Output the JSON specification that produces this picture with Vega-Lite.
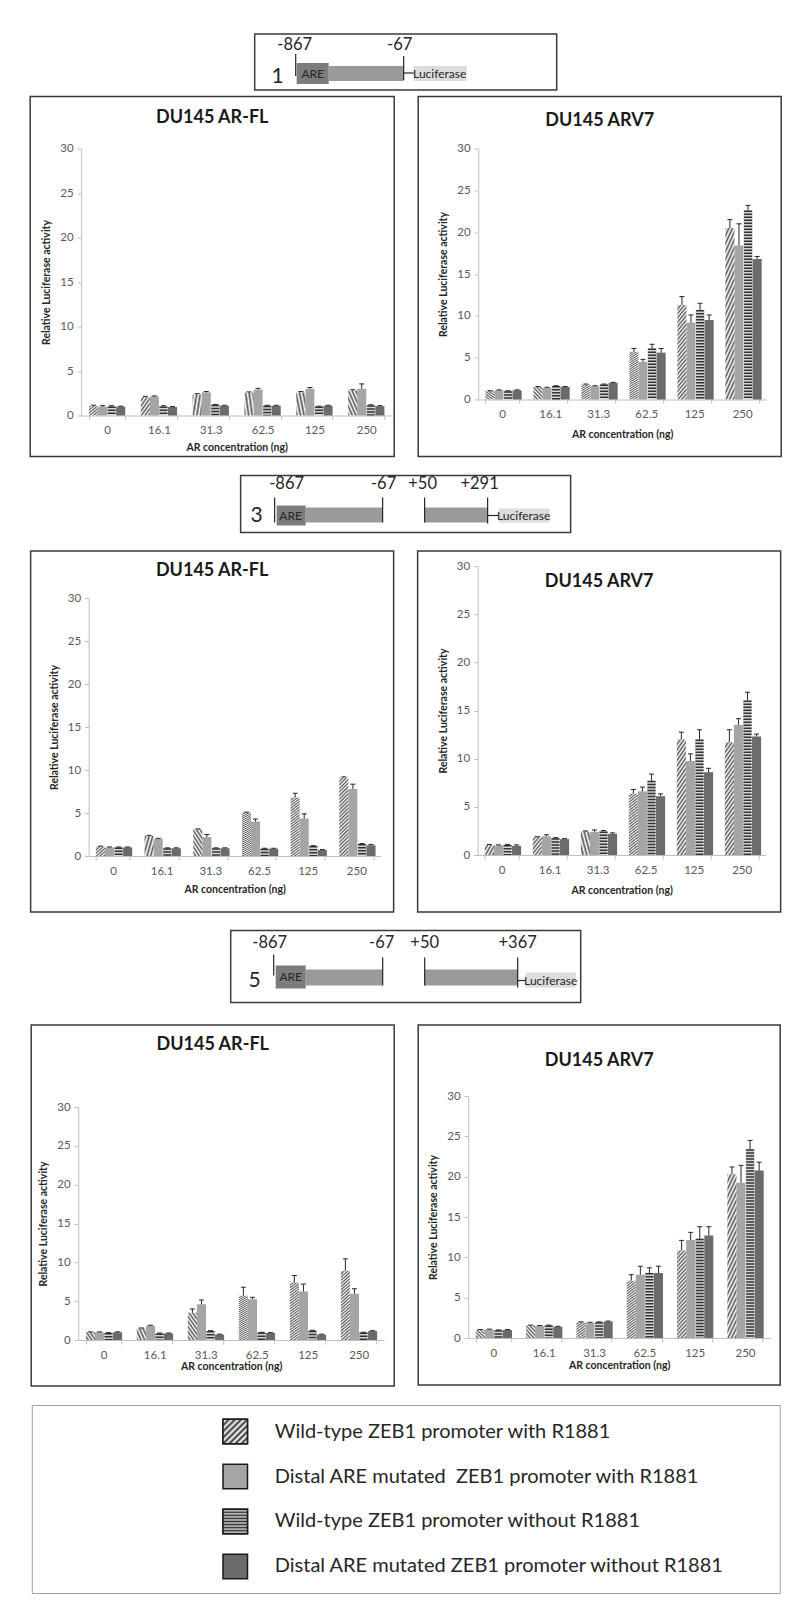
{
"$schema": "https://vega.github.io/schema/vega-lite/v6.json",
"background": "#ffffff",
"padding": {"left": 29, "top": 33, "right": 5, "bottom": 5},
"spacing": 16.5,
"center": true,
"config": {
  "font": "Lato",
  "view": {"stroke": "#3a3a3a", "strokeWidth": 1.5},
  "axis": {"grid": false, "labelColor": "#595959", "labelFontSize": 11.5, "titleColor": "#262626", "titleFontSize": 10.5, "titleFontWeight": "bold", "domainColor": "#bfbfbf", "tickColor": "#bfbfbf", "tickSize": 4},
  "axisX": {"labelAngle": 0, "tickBand": "extent", "labelPadding": 5},
  "axisY": {"labelPadding": 4, "titlePadding": 8},
  "title": {"fontSize": 18, "fontWeight": "bold", "color": "#1a1a1a", "anchor": "middle", "frame": "group"}
},
"datasets": {
  "bars": [
    {"p":1,"c":"0","s":"A","v":1.05,"hi":1.15},{"p":1,"c":"0","s":"B","v":1.0,"hi":1.1},{"p":1,"c":"0","s":"C","v":1.0,"hi":1.1},{"p":1,"c":"0","s":"D","v":1.0,"hi":1.05},
    {"p":1,"c":"16.1","s":"A","v":2.05,"hi":2.15},{"p":1,"c":"16.1","s":"B","v":2.15,"hi":2.2},{"p":1,"c":"16.1","s":"C","v":1.0,"hi":1.1},{"p":1,"c":"16.1","s":"D","v":0.95,"hi":1.0},
    {"p":1,"c":"31.3","s":"A","v":2.35,"hi":2.45},{"p":1,"c":"31.3","s":"B","v":2.6,"hi":2.7},{"p":1,"c":"31.3","s":"C","v":1.2,"hi":1.25},{"p":1,"c":"31.3","s":"D","v":1.1,"hi":1.15},
    {"p":1,"c":"62.5","s":"A","v":2.55,"hi":2.65},{"p":1,"c":"62.5","s":"B","v":2.9,"hi":3.05},{"p":1,"c":"62.5","s":"C","v":1.1,"hi":1.15},{"p":1,"c":"62.5","s":"D","v":1.1,"hi":1.15},
    {"p":1,"c":"125","s":"A","v":2.6,"hi":2.7},{"p":1,"c":"125","s":"B","v":3.0,"hi":3.15},{"p":1,"c":"125","s":"C","v":1.0,"hi":1.05},{"p":1,"c":"125","s":"D","v":1.1,"hi":1.15},
    {"p":1,"c":"250","s":"A","v":2.8,"hi":2.9},{"p":1,"c":"250","s":"B","v":3.0,"hi":3.55},{"p":1,"c":"250","s":"C","v":1.15,"hi":1.2},{"p":1,"c":"250","s":"D","v":1.05,"hi":1.1},

    {"p":2,"c":"0","s":"A","v":1.0,"hi":1.05},{"p":2,"c":"0","s":"B","v":1.1,"hi":1.15},{"p":2,"c":"0","s":"C","v":1.0,"hi":1.05},{"p":2,"c":"0","s":"D","v":1.1,"hi":1.15},
    {"p":2,"c":"16.1","s":"A","v":1.5,"hi":1.55},{"p":2,"c":"16.1","s":"B","v":1.4,"hi":1.45},{"p":2,"c":"16.1","s":"C","v":1.6,"hi":1.65},{"p":2,"c":"16.1","s":"D","v":1.5,"hi":1.55},
    {"p":2,"c":"31.3","s":"A","v":1.8,"hi":1.85},{"p":2,"c":"31.3","s":"B","v":1.6,"hi":1.65},{"p":2,"c":"31.3","s":"C","v":1.8,"hi":1.85},{"p":2,"c":"31.3","s":"D","v":2.0,"hi":2.05},
    {"p":2,"c":"62.5","s":"A","v":5.7,"hi":6.1},{"p":2,"c":"62.5","s":"B","v":4.5,"hi":4.8},{"p":2,"c":"62.5","s":"C","v":6.1,"hi":6.6},{"p":2,"c":"62.5","s":"D","v":5.6,"hi":6.1},
    {"p":2,"c":"125","s":"A","v":11.3,"hi":12.3},{"p":2,"c":"125","s":"B","v":9.2,"hi":10.1},{"p":2,"c":"125","s":"C","v":10.7,"hi":11.5},{"p":2,"c":"125","s":"D","v":9.5,"hi":10.1},
    {"p":2,"c":"250","s":"A","v":20.5,"hi":21.5},{"p":2,"c":"250","s":"B","v":18.4,"hi":21.0},{"p":2,"c":"250","s":"C","v":22.6,"hi":23.2},{"p":2,"c":"250","s":"D","v":16.8,"hi":17.1},

    {"p":3,"c":"0","s":"A","v":1.1,"hi":1.15},{"p":3,"c":"0","s":"B","v":1.0,"hi":1.05},{"p":3,"c":"0","s":"C","v":1.0,"hi":1.05},{"p":3,"c":"0","s":"D","v":1.0,"hi":1.05},
    {"p":3,"c":"16.1","s":"A","v":2.35,"hi":2.4},{"p":3,"c":"16.1","s":"B","v":2.0,"hi":2.05},{"p":3,"c":"16.1","s":"C","v":0.9,"hi":0.95},{"p":3,"c":"16.1","s":"D","v":0.9,"hi":0.95},
    {"p":3,"c":"31.3","s":"A","v":3.1,"hi":3.15},{"p":3,"c":"31.3","s":"B","v":2.2,"hi":2.5},{"p":3,"c":"31.3","s":"C","v":0.9,"hi":0.95},{"p":3,"c":"31.3","s":"D","v":0.9,"hi":0.95},
    {"p":3,"c":"62.5","s":"A","v":5.05,"hi":5.1},{"p":3,"c":"62.5","s":"B","v":4.0,"hi":4.3},{"p":3,"c":"62.5","s":"C","v":0.85,"hi":0.9},{"p":3,"c":"62.5","s":"D","v":0.85,"hi":0.9},
    {"p":3,"c":"125","s":"A","v":6.8,"hi":7.3},{"p":3,"c":"125","s":"B","v":4.35,"hi":4.9},{"p":3,"c":"125","s":"C","v":1.15,"hi":1.2},{"p":3,"c":"125","s":"D","v":0.7,"hi":0.75},
    {"p":3,"c":"250","s":"A","v":9.1,"hi":9.2},{"p":3,"c":"250","s":"B","v":7.8,"hi":8.35},{"p":3,"c":"250","s":"C","v":1.4,"hi":1.45},{"p":3,"c":"250","s":"D","v":1.25,"hi":1.35},

    {"p":4,"c":"0","s":"A","v":1.05,"hi":1.1},{"p":4,"c":"0","s":"B","v":1.0,"hi":1.05},{"p":4,"c":"0","s":"C","v":1.05,"hi":1.1},{"p":4,"c":"0","s":"D","v":0.95,"hi":1.05},
    {"p":4,"c":"16.1","s":"A","v":1.85,"hi":1.9},{"p":4,"c":"16.1","s":"B","v":1.95,"hi":2.1},{"p":4,"c":"16.1","s":"C","v":1.75,"hi":1.8},{"p":4,"c":"16.1","s":"D","v":1.65,"hi":1.7},
    {"p":4,"c":"31.3","s":"A","v":2.45,"hi":2.5},{"p":4,"c":"31.3","s":"B","v":2.4,"hi":2.6},{"p":4,"c":"31.3","s":"C","v":2.45,"hi":2.55},{"p":4,"c":"31.3","s":"D","v":2.2,"hi":2.3},
    {"p":4,"c":"62.5","s":"A","v":6.35,"hi":6.8},{"p":4,"c":"62.5","s":"B","v":6.6,"hi":7.05},{"p":4,"c":"62.5","s":"C","v":7.7,"hi":8.4},{"p":4,"c":"62.5","s":"D","v":6.1,"hi":6.35},
    {"p":4,"c":"125","s":"A","v":12.0,"hi":12.75},{"p":4,"c":"125","s":"B","v":9.75,"hi":10.5},{"p":4,"c":"125","s":"C","v":12.0,"hi":13.0},{"p":4,"c":"125","s":"D","v":8.6,"hi":9.0},
    {"p":4,"c":"250","s":"A","v":11.7,"hi":13.0},{"p":4,"c":"250","s":"B","v":13.5,"hi":14.15},{"p":4,"c":"250","s":"C","v":16.05,"hi":16.9},{"p":4,"c":"250","s":"D","v":12.3,"hi":12.55},

    {"p":5,"c":"0","s":"A","v":1.0,"hi":1.05},{"p":5,"c":"0","s":"B","v":1.0,"hi":1.05},{"p":5,"c":"0","s":"C","v":0.9,"hi":0.95},{"p":5,"c":"0","s":"D","v":1.0,"hi":1.05},
    {"p":5,"c":"16.1","s":"A","v":1.5,"hi":1.55},{"p":5,"c":"16.1","s":"B","v":1.85,"hi":1.9},{"p":5,"c":"16.1","s":"C","v":0.85,"hi":0.9},{"p":5,"c":"16.1","s":"D","v":0.85,"hi":0.9},
    {"p":5,"c":"31.3","s":"A","v":3.5,"hi":4.0},{"p":5,"c":"31.3","s":"B","v":4.6,"hi":5.15},{"p":5,"c":"31.3","s":"C","v":1.15,"hi":1.2},{"p":5,"c":"31.3","s":"D","v":0.7,"hi":0.75},
    {"p":5,"c":"62.5","s":"A","v":5.7,"hi":6.8},{"p":5,"c":"62.5","s":"B","v":5.25,"hi":5.5},{"p":5,"c":"62.5","s":"C","v":0.95,"hi":1.0},{"p":5,"c":"62.5","s":"D","v":0.9,"hi":0.95},
    {"p":5,"c":"125","s":"A","v":7.4,"hi":8.3},{"p":5,"c":"125","s":"B","v":6.25,"hi":7.2},{"p":5,"c":"125","s":"C","v":1.2,"hi":1.25},{"p":5,"c":"125","s":"D","v":0.7,"hi":0.75},
    {"p":5,"c":"250","s":"A","v":8.9,"hi":10.45},{"p":5,"c":"250","s":"B","v":5.95,"hi":6.6},{"p":5,"c":"250","s":"C","v":0.95,"hi":1.0},{"p":5,"c":"250","s":"D","v":1.15,"hi":1.2},

    {"p":6,"c":"0","s":"A","v":1.0,"hi":1.05},{"p":6,"c":"0","s":"B","v":1.05,"hi":1.1},{"p":6,"c":"0","s":"C","v":0.95,"hi":1.0},{"p":6,"c":"0","s":"D","v":1.0,"hi":1.05},
    {"p":6,"c":"16.1","s":"A","v":1.55,"hi":1.6},{"p":6,"c":"16.1","s":"B","v":1.5,"hi":1.55},{"p":6,"c":"16.1","s":"C","v":1.55,"hi":1.6},{"p":6,"c":"16.1","s":"D","v":1.4,"hi":1.45},
    {"p":6,"c":"31.3","s":"A","v":1.95,"hi":2.0},{"p":6,"c":"31.3","s":"B","v":1.9,"hi":1.95},{"p":6,"c":"31.3","s":"C","v":1.95,"hi":2.0},{"p":6,"c":"31.3","s":"D","v":2.05,"hi":2.1},
    {"p":6,"c":"62.5","s":"A","v":7.1,"hi":7.85},{"p":6,"c":"62.5","s":"B","v":7.85,"hi":8.9},{"p":6,"c":"62.5","s":"C","v":8.05,"hi":8.7},{"p":6,"c":"62.5","s":"D","v":8.05,"hi":8.9},
    {"p":6,"c":"125","s":"A","v":10.85,"hi":12.1},{"p":6,"c":"125","s":"B","v":12.15,"hi":13.1},{"p":6,"c":"125","s":"C","v":12.3,"hi":13.8},{"p":6,"c":"125","s":"D","v":12.7,"hi":13.8},
    {"p":6,"c":"250","s":"A","v":20.3,"hi":21.2},{"p":6,"c":"250","s":"B","v":19.25,"hi":21.4},{"p":6,"c":"250","s":"C","v":23.4,"hi":24.5},{"p":6,"c":"250","s":"D","v":20.75,"hi":21.8}
  ],
  "dr": [
    {"c":1,"part":"g","x":74,"x2":149,"y":32,"y2":47},{"c":1,"part":"a","x":42,"x2":74,"y":29,"y2":50},{"c":1,"part":"l","x":159,"x2":212,"y":32,"y2":47},
    {"c":3,"part":"g","x":65,"x2":142,"y":32,"y2":47},{"c":3,"part":"g","x":184,"x2":247,"y":32,"y2":47},{"c":3,"part":"a","x":36,"x2":65,"y":30,"y2":50},{"c":3,"part":"l","x":258,"x2":309,"y":33,"y2":47},
    {"c":5,"part":"g","x":75,"x2":152,"y":39,"y2":55},{"c":5,"part":"g","x":194,"x2":287,"y":39,"y2":55},{"c":5,"part":"a","x":45,"x2":75,"y":35,"y2":58},{"c":5,"part":"l","x":295,"x2":345,"y":42,"y2":57}
  ],
  "dl": [
    {"c":1,"x":41,"x2":41,"y":20,"y2":42},{"c":1,"x":149,"x2":149,"y":22,"y2":46},{"c":1,"x":149,"x2":159,"y":39,"y2":39},
    {"c":3,"x":34,"x2":34,"y":22,"y2":47},{"c":3,"x":142,"x2":142,"y":22,"y2":47},{"c":3,"x":184,"x2":184,"y":22,"y2":47},{"c":3,"x":247,"x2":247,"y":22,"y2":48},{"c":3,"x":247,"x2":258,"y":40,"y2":40},
    {"c":5,"x":43,"x2":43,"y":24,"y2":45},{"c":5,"x":152,"x2":152,"y":27,"y2":55},{"c":5,"x":194,"x2":194,"y":27,"y2":55},{"c":5,"x":287,"x2":287,"y":27,"y2":57},{"c":5,"x":287,"x2":295,"y":50,"y2":50}
  ],
  "dt": [
    {"c":1,"t":"1","x":23,"y":43,"k":"n"},{"c":1,"t":"-867","x":40,"y":11,"k":"c"},{"c":1,"t":"-67","x":145,"y":11,"k":"c"},{"c":1,"t":"ARE","x":58,"y":40,"k":"s"},{"c":1,"t":"Luciferase","x":185,"y":40,"k":"s"},
    {"c":3,"t":"3","x":16,"y":40,"k":"n"},{"c":3,"t":"-867","x":46,"y":8,"k":"c"},{"c":3,"t":"-67","x":143,"y":8,"k":"c"},{"c":3,"t":"+50","x":182,"y":8,"k":"c"},{"c":3,"t":"+291","x":239,"y":8,"k":"c"},{"c":3,"t":"ARE","x":50,"y":40,"k":"s"},{"c":3,"t":"Luciferase","x":283,"y":40,"k":"s"},
    {"c":5,"t":"5","x":24,"y":50,"k":"n"},{"c":5,"t":"-867","x":39,"y":12,"k":"c"},{"c":5,"t":"-67","x":151,"y":12,"k":"c"},{"c":5,"t":"+50","x":194,"y":12,"k":"c"},{"c":5,"t":"+367","x":287,"y":12,"k":"c"},{"c":5,"t":"ARE","x":60,"y":46,"k":"s"},{"c":5,"t":"Luciferase","x":320,"y":50,"k":"s"}
  ],
  "leg": [
    {"s":"A","label":"Wild-type ZEB1 promoter with R1881"},
    {"s":"B","label":"Distal ARE mutated \u00a0ZEB1 promoter with R1881"},
    {"s":"C","label":"Wild-type ZEB1 promoter without R1881"},
    {"s":"D","label":"Distal ARE mutated ZEB1 promoter without R1881"}
  ]
},
"vconcat": [
  {"vconcat": [
    {"width": 302, "height": 56,
     "encoding": {"x": {"field": "x", "type": "quantitative", "scale": {"domain": [0, 302], "nice": false}, "axis": null}, "y": {"field": "y", "type": "quantitative", "scale": {"domain": [0, 56], "nice": false, "reverse": true}, "axis": null}},
     "layer": [
      {"data": {"name": "dr"}, "transform": [{"filter": "datum.c === 1"}], "mark": {"type": "rect"}, "encoding": {"x2": {"field": "x2"}, "y2": {"field": "y2"}, "color": {"field": "part", "type": "nominal", "scale": {"domain": ["g","a","l"], "range": ["#9a9a9a","#7c7c7c","#dcdcdc"]}, "legend": null}}},
      {"data": {"name": "dl"}, "transform": [{"filter": "datum.c === 1"}], "mark": {"type": "rule", "color": "#262626", "strokeWidth": 1.2}, "encoding": {"x2": {"field": "x2"}, "y2": {"field": "y2"}}},
      {"data": {"name": "dt"}, "transform": [{"filter": "datum.c === 1"}], "mark": {"type": "text", "color": "#262626", "baseline": "middle"}, "encoding": {"text": {"field": "t"}, "size": {"field": "k", "type": "nominal", "scale": {"domain": ["n","c","s"], "range": [21, 12, 8.5]}, "legend": null}}}
     ]},
    {"hconcat": [
      {"width": 364, "height": 360,
       "title": {"text": "DU145 AR-FL", "offset": -30},
       "data": {"name": "bars"}, "transform": [{"filter": "datum.p === 1"}],
       "encoding": {
         "x": {"field": "c", "type": "nominal", "sort": ["0","16.1","31.3","62.5","125","250"], "scale": {"range": [51, 362], "paddingInner": 0.3, "paddingOuter": 0.15}, "axis": {"title": "AR concentration (ng)", "offset": -41, "titlePadding": 6}},
         "xOffset": {"field": "s", "type": "nominal"},
         "y": {"field": "v", "type": "quantitative", "scale": {"domain": [0, 30], "range": [319, 52], "nice": false}, "axis": {"title": "Relative Luciferase activity", "offset": -51, "values": [0, 5, 10, 15, 20, 25, 30]}}},
       "layer": [
         {"mark": {"type": "bar"}, "encoding": {"fill": {"field": "s", "type": "nominal", "scale": {"domain": ["A","B","C","D"], "range": ["#ffffff","#a5a5a5","#d4d4d4","#6b6b6b"]}, "legend": null}}},
         {"transform": [{"filter": "datum.s === 'A'"}], "mark": {"type": "bar", "fill": {"gradient": "linear", "x1": 0, "y1": 0, "x2": 0.13, "y2": 1.13, "stops": [{"offset": 0, "color": "#555555"}, {"offset": 0.02, "color": "#ffffff"}, {"offset": 0.04, "color": "#555555"}, {"offset": 0.06, "color": "#ffffff"}, {"offset": 0.08, "color": "#555555"}, {"offset": 0.1, "color": "#ffffff"}, {"offset": 0.12, "color": "#555555"}, {"offset": 0.14, "color": "#ffffff"}, {"offset": 0.16, "color": "#555555"}, {"offset": 0.18, "color": "#ffffff"}, {"offset": 0.2, "color": "#555555"}, {"offset": 0.22, "color": "#ffffff"}, {"offset": 0.24, "color": "#555555"}, {"offset": 0.26, "color": "#ffffff"}, {"offset": 0.28, "color": "#555555"}, {"offset": 0.3, "color": "#ffffff"}, {"offset": 0.32, "color": "#555555"}, {"offset": 0.34, "color": "#ffffff"}, {"offset": 0.36, "color": "#555555"}, {"offset": 0.38, "color": "#ffffff"}, {"offset": 0.4, "color": "#555555"}, {"offset": 0.42, "color": "#ffffff"}, {"offset": 0.44, "color": "#555555"}, {"offset": 0.46, "color": "#ffffff"}, {"offset": 0.48, "color": "#555555"}, {"offset": 0.5, "color": "#ffffff"}, {"offset": 0.52, "color": "#555555"}, {"offset": 0.54, "color": "#ffffff"}, {"offset": 0.56, "color": "#555555"}, {"offset": 0.58, "color": "#ffffff"}, {"offset": 0.6, "color": "#555555"}, {"offset": 0.62, "color": "#ffffff"}, {"offset": 0.64, "color": "#555555"}, {"offset": 0.66, "color": "#ffffff"}, {"offset": 0.68, "color": "#555555"}, {"offset": 0.7, "color": "#ffffff"}, {"offset": 0.72, "color": "#555555"}, {"offset": 0.74, "color": "#ffffff"}, {"offset": 0.76, "color": "#555555"}, {"offset": 0.78, "color": "#ffffff"}, {"offset": 0.8, "color": "#555555"}, {"offset": 0.82, "color": "#ffffff"}, {"offset": 0.84, "color": "#555555"}, {"offset": 0.86, "color": "#ffffff"}, {"offset": 0.88, "color": "#555555"}, {"offset": 0.9, "color": "#ffffff"}, {"offset": 0.92, "color": "#555555"}, {"offset": 0.94, "color": "#ffffff"}, {"offset": 0.96, "color": "#555555"}, {"offset": 0.98, "color": "#ffffff"}, {"offset": 1, "color": "#555555"}]}}},
         {"transform": [{"filter": "datum.s === 'C'"}], "mark": {"type": "rule", "color": "#333333", "strokeWidth": 8, "strokeDash": [1.5, 1.5]}, "encoding": {"y2": {"datum": 0}}},
         {"mark": {"type": "rule", "color": "#262626", "strokeWidth": 1}, "encoding": {"y2": {"field": "hi"}}},
         {"mark": {"type": "tick", "color": "#262626", "thickness": 1, "size": 5, "opacity": 1}, "encoding": {"y": {"field": "hi", "type": "quantitative", "title": "Relative Luciferase activity"}}}
       ]},
      {"width": 363, "height": 360,
       "title": {"text": "DU145 ARV7", "offset": -33},
       "data": {"name": "bars"}, "transform": [{"filter": "datum.p === 2"}],
       "encoding": {
         "x": {"field": "c", "type": "nominal", "sort": ["0","16.1","31.3","62.5","125","250"], "scale": {"range": [60, 348], "paddingInner": 0.3, "paddingOuter": 0.15}, "axis": {"title": "AR concentration (ng)", "offset": -57, "titlePadding": 9}},
         "xOffset": {"field": "s", "type": "nominal"},
         "y": {"field": "v", "type": "quantitative", "scale": {"domain": [0, 30], "range": [303, 52], "nice": false}, "axis": {"title": "Relative Luciferase activity", "offset": -60, "values": [0, 5, 10, 15, 20, 25, 30]}}},
       "layer": [
         {"mark": {"type": "bar"}, "encoding": {"fill": {"field": "s", "type": "nominal", "scale": {"domain": ["A","B","C","D"], "range": ["#ffffff","#a5a5a5","#d4d4d4","#6b6b6b"]}, "legend": null}}},
         {"transform": [{"filter": "datum.s === 'A'"}], "mark": {"type": "bar", "fill": {"gradient": "linear", "x1": 0, "y1": 0, "x2": 0.13, "y2": 1.13, "stops": [{"offset": 0, "color": "#555555"}, {"offset": 0.02, "color": "#ffffff"}, {"offset": 0.04, "color": "#555555"}, {"offset": 0.06, "color": "#ffffff"}, {"offset": 0.08, "color": "#555555"}, {"offset": 0.1, "color": "#ffffff"}, {"offset": 0.12, "color": "#555555"}, {"offset": 0.14, "color": "#ffffff"}, {"offset": 0.16, "color": "#555555"}, {"offset": 0.18, "color": "#ffffff"}, {"offset": 0.2, "color": "#555555"}, {"offset": 0.22, "color": "#ffffff"}, {"offset": 0.24, "color": "#555555"}, {"offset": 0.26, "color": "#ffffff"}, {"offset": 0.28, "color": "#555555"}, {"offset": 0.3, "color": "#ffffff"}, {"offset": 0.32, "color": "#555555"}, {"offset": 0.34, "color": "#ffffff"}, {"offset": 0.36, "color": "#555555"}, {"offset": 0.38, "color": "#ffffff"}, {"offset": 0.4, "color": "#555555"}, {"offset": 0.42, "color": "#ffffff"}, {"offset": 0.44, "color": "#555555"}, {"offset": 0.46, "color": "#ffffff"}, {"offset": 0.48, "color": "#555555"}, {"offset": 0.5, "color": "#ffffff"}, {"offset": 0.52, "color": "#555555"}, {"offset": 0.54, "color": "#ffffff"}, {"offset": 0.56, "color": "#555555"}, {"offset": 0.58, "color": "#ffffff"}, {"offset": 0.6, "color": "#555555"}, {"offset": 0.62, "color": "#ffffff"}, {"offset": 0.64, "color": "#555555"}, {"offset": 0.66, "color": "#ffffff"}, {"offset": 0.68, "color": "#555555"}, {"offset": 0.7, "color": "#ffffff"}, {"offset": 0.72, "color": "#555555"}, {"offset": 0.74, "color": "#ffffff"}, {"offset": 0.76, "color": "#555555"}, {"offset": 0.78, "color": "#ffffff"}, {"offset": 0.8, "color": "#555555"}, {"offset": 0.82, "color": "#ffffff"}, {"offset": 0.84, "color": "#555555"}, {"offset": 0.86, "color": "#ffffff"}, {"offset": 0.88, "color": "#555555"}, {"offset": 0.9, "color": "#ffffff"}, {"offset": 0.92, "color": "#555555"}, {"offset": 0.94, "color": "#ffffff"}, {"offset": 0.96, "color": "#555555"}, {"offset": 0.98, "color": "#ffffff"}, {"offset": 1, "color": "#555555"}]}}},
         {"transform": [{"filter": "datum.s === 'C'"}], "mark": {"type": "rule", "color": "#333333", "strokeWidth": 8, "strokeDash": [1.5, 1.5]}, "encoding": {"y2": {"datum": 0}}},
         {"mark": {"type": "rule", "color": "#262626", "strokeWidth": 1}, "encoding": {"y2": {"field": "hi"}}},
         {"mark": {"type": "tick", "color": "#262626", "thickness": 1, "size": 5, "opacity": 1}, "encoding": {"y": {"field": "hi", "type": "quantitative", "title": "Relative Luciferase activity"}}}
       ]}
    ], "spacing": 22}
  ], "spacing": 4.5, "center": true},

  {"width": 330, "height": 57,
   "encoding": {"x": {"field": "x", "type": "quantitative", "scale": {"domain": [0, 330], "nice": false}, "axis": null}, "y": {"field": "y", "type": "quantitative", "scale": {"domain": [0, 57], "nice": false, "reverse": true}, "axis": null}},
   "layer": [
    {"data": {"name": "dr"}, "transform": [{"filter": "datum.c === 3"}], "mark": {"type": "rect"}, "encoding": {"x2": {"field": "x2"}, "y2": {"field": "y2"}, "color": {"field": "part", "type": "nominal", "scale": {"domain": ["g","a","l"], "range": ["#9a9a9a","#7c7c7c","#dcdcdc"]}, "legend": null}}},
    {"data": {"name": "dl"}, "transform": [{"filter": "datum.c === 3"}], "mark": {"type": "rule", "color": "#262626", "strokeWidth": 1.2}, "encoding": {"x2": {"field": "x2"}, "y2": {"field": "y2"}}},
    {"data": {"name": "dt"}, "transform": [{"filter": "datum.c === 3"}], "mark": {"type": "text", "color": "#262626", "baseline": "middle"}, "encoding": {"text": {"field": "t"}, "size": {"field": "k", "type": "nominal", "scale": {"domain": ["n","c","s"], "range": [21, 12, 8.5]}, "legend": null}}}
   ]},

  {"hconcat": [
    {"width": 363, "height": 361,
     "title": {"text": "DU145 AR-FL", "offset": -29},
     "data": {"name": "bars"}, "transform": [{"filter": "datum.p === 3"}],
     "encoding": {
       "x": {"field": "c", "type": "nominal", "sort": ["0","16.1","31.3","62.5","125","250"], "scale": {"range": [58, 350], "paddingInner": 0.3, "paddingOuter": 0.15}, "axis": {"title": "AR concentration (ng)", "offset": -56, "titlePadding": 8}},
       "xOffset": {"field": "s", "type": "nominal"},
       "y": {"field": "v", "type": "quantitative", "scale": {"domain": [0, 30], "range": [305, 47], "nice": false}, "axis": {"title": "Relative Luciferase activity", "offset": -58, "values": [0, 5, 10, 15, 20, 25, 30]}}},
     "layer": [
       {"mark": {"type": "bar"}, "encoding": {"fill": {"field": "s", "type": "nominal", "scale": {"domain": ["A","B","C","D"], "range": ["#ffffff","#a5a5a5","#d4d4d4","#6b6b6b"]}, "legend": null}}},
       {"transform": [{"filter": "datum.s === 'A'"}], "mark": {"type": "bar", "fill": {"gradient": "linear", "x1": 0, "y1": 0, "x2": 0.13, "y2": 1.13, "stops": [{"offset": 0, "color": "#555555"}, {"offset": 0.02, "color": "#ffffff"}, {"offset": 0.04, "color": "#555555"}, {"offset": 0.06, "color": "#ffffff"}, {"offset": 0.08, "color": "#555555"}, {"offset": 0.1, "color": "#ffffff"}, {"offset": 0.12, "color": "#555555"}, {"offset": 0.14, "color": "#ffffff"}, {"offset": 0.16, "color": "#555555"}, {"offset": 0.18, "color": "#ffffff"}, {"offset": 0.2, "color": "#555555"}, {"offset": 0.22, "color": "#ffffff"}, {"offset": 0.24, "color": "#555555"}, {"offset": 0.26, "color": "#ffffff"}, {"offset": 0.28, "color": "#555555"}, {"offset": 0.3, "color": "#ffffff"}, {"offset": 0.32, "color": "#555555"}, {"offset": 0.34, "color": "#ffffff"}, {"offset": 0.36, "color": "#555555"}, {"offset": 0.38, "color": "#ffffff"}, {"offset": 0.4, "color": "#555555"}, {"offset": 0.42, "color": "#ffffff"}, {"offset": 0.44, "color": "#555555"}, {"offset": 0.46, "color": "#ffffff"}, {"offset": 0.48, "color": "#555555"}, {"offset": 0.5, "color": "#ffffff"}, {"offset": 0.52, "color": "#555555"}, {"offset": 0.54, "color": "#ffffff"}, {"offset": 0.56, "color": "#555555"}, {"offset": 0.58, "color": "#ffffff"}, {"offset": 0.6, "color": "#555555"}, {"offset": 0.62, "color": "#ffffff"}, {"offset": 0.64, "color": "#555555"}, {"offset": 0.66, "color": "#ffffff"}, {"offset": 0.68, "color": "#555555"}, {"offset": 0.7, "color": "#ffffff"}, {"offset": 0.72, "color": "#555555"}, {"offset": 0.74, "color": "#ffffff"}, {"offset": 0.76, "color": "#555555"}, {"offset": 0.78, "color": "#ffffff"}, {"offset": 0.8, "color": "#555555"}, {"offset": 0.82, "color": "#ffffff"}, {"offset": 0.84, "color": "#555555"}, {"offset": 0.86, "color": "#ffffff"}, {"offset": 0.88, "color": "#555555"}, {"offset": 0.9, "color": "#ffffff"}, {"offset": 0.92, "color": "#555555"}, {"offset": 0.94, "color": "#ffffff"}, {"offset": 0.96, "color": "#555555"}, {"offset": 0.98, "color": "#ffffff"}, {"offset": 1, "color": "#555555"}]}}},
       {"transform": [{"filter": "datum.s === 'C'"}], "mark": {"type": "rule", "color": "#333333", "strokeWidth": 8, "strokeDash": [1.5, 1.5]}, "encoding": {"y2": {"datum": 0}}},
       {"mark": {"type": "rule", "color": "#262626", "strokeWidth": 1}, "encoding": {"y2": {"field": "hi"}}},
       {"mark": {"type": "tick", "color": "#262626", "thickness": 1, "size": 5, "opacity": 1}, "encoding": {"y": {"field": "hi", "type": "quantitative", "title": "Relative Luciferase activity"}}}
     ]},
    {"width": 363, "height": 361,
     "title": {"text": "DU145 ARV7", "offset": -40},
     "data": {"name": "bars"}, "transform": [{"filter": "datum.p === 4"}],
     "encoding": {
       "x": {"field": "c", "type": "nominal", "sort": ["0","16.1","31.3","62.5","125","250"], "scale": {"range": [60, 348], "paddingInner": 0.3, "paddingOuter": 0.15}, "axis": {"title": "AR concentration (ng)", "offset": -57, "titlePadding": 10}},
       "xOffset": {"field": "s", "type": "nominal"},
       "y": {"field": "v", "type": "quantitative", "scale": {"domain": [0, 30], "range": [304, 15], "nice": false}, "axis": {"title": "Relative Luciferase activity", "offset": -60, "values": [0, 5, 10, 15, 20, 25, 30]}}},
     "layer": [
       {"mark": {"type": "bar"}, "encoding": {"fill": {"field": "s", "type": "nominal", "scale": {"domain": ["A","B","C","D"], "range": ["#ffffff","#a5a5a5","#d4d4d4","#6b6b6b"]}, "legend": null}}},
       {"transform": [{"filter": "datum.s === 'A'"}], "mark": {"type": "bar", "fill": {"gradient": "linear", "x1": 0, "y1": 0, "x2": 0.13, "y2": 1.13, "stops": [{"offset": 0, "color": "#555555"}, {"offset": 0.02, "color": "#ffffff"}, {"offset": 0.04, "color": "#555555"}, {"offset": 0.06, "color": "#ffffff"}, {"offset": 0.08, "color": "#555555"}, {"offset": 0.1, "color": "#ffffff"}, {"offset": 0.12, "color": "#555555"}, {"offset": 0.14, "color": "#ffffff"}, {"offset": 0.16, "color": "#555555"}, {"offset": 0.18, "color": "#ffffff"}, {"offset": 0.2, "color": "#555555"}, {"offset": 0.22, "color": "#ffffff"}, {"offset": 0.24, "color": "#555555"}, {"offset": 0.26, "color": "#ffffff"}, {"offset": 0.28, "color": "#555555"}, {"offset": 0.3, "color": "#ffffff"}, {"offset": 0.32, "color": "#555555"}, {"offset": 0.34, "color": "#ffffff"}, {"offset": 0.36, "color": "#555555"}, {"offset": 0.38, "color": "#ffffff"}, {"offset": 0.4, "color": "#555555"}, {"offset": 0.42, "color": "#ffffff"}, {"offset": 0.44, "color": "#555555"}, {"offset": 0.46, "color": "#ffffff"}, {"offset": 0.48, "color": "#555555"}, {"offset": 0.5, "color": "#ffffff"}, {"offset": 0.52, "color": "#555555"}, {"offset": 0.54, "color": "#ffffff"}, {"offset": 0.56, "color": "#555555"}, {"offset": 0.58, "color": "#ffffff"}, {"offset": 0.6, "color": "#555555"}, {"offset": 0.62, "color": "#ffffff"}, {"offset": 0.64, "color": "#555555"}, {"offset": 0.66, "color": "#ffffff"}, {"offset": 0.68, "color": "#555555"}, {"offset": 0.7, "color": "#ffffff"}, {"offset": 0.72, "color": "#555555"}, {"offset": 0.74, "color": "#ffffff"}, {"offset": 0.76, "color": "#555555"}, {"offset": 0.78, "color": "#ffffff"}, {"offset": 0.8, "color": "#555555"}, {"offset": 0.82, "color": "#ffffff"}, {"offset": 0.84, "color": "#555555"}, {"offset": 0.86, "color": "#ffffff"}, {"offset": 0.88, "color": "#555555"}, {"offset": 0.9, "color": "#ffffff"}, {"offset": 0.92, "color": "#555555"}, {"offset": 0.94, "color": "#ffffff"}, {"offset": 0.96, "color": "#555555"}, {"offset": 0.98, "color": "#ffffff"}, {"offset": 1, "color": "#555555"}]}}},
       {"transform": [{"filter": "datum.s === 'C'"}], "mark": {"type": "rule", "color": "#333333", "strokeWidth": 8, "strokeDash": [1.5, 1.5]}, "encoding": {"y2": {"datum": 0}}},
       {"mark": {"type": "rule", "color": "#262626", "strokeWidth": 1}, "encoding": {"y2": {"field": "hi"}}},
       {"mark": {"type": "tick", "color": "#262626", "thickness": 1, "size": 5, "opacity": 1}, "encoding": {"y": {"field": "hi", "type": "quantitative", "title": "Relative Luciferase activity"}}}
     ]}
  ], "spacing": 22},

  {"vconcat": [
    {"width": 350, "height": 72,
     "encoding": {"x": {"field": "x", "type": "quantitative", "scale": {"domain": [0, 350], "nice": false}, "axis": null}, "y": {"field": "y", "type": "quantitative", "scale": {"domain": [0, 72], "nice": false, "reverse": true}, "axis": null}},
     "layer": [
      {"data": {"name": "dr"}, "transform": [{"filter": "datum.c === 5"}], "mark": {"type": "rect"}, "encoding": {"x2": {"field": "x2"}, "y2": {"field": "y2"}, "color": {"field": "part", "type": "nominal", "scale": {"domain": ["g","a","l"], "range": ["#9a9a9a","#7c7c7c","#dcdcdc"]}, "legend": null}}},
      {"data": {"name": "dl"}, "transform": [{"filter": "datum.c === 5"}], "mark": {"type": "rule", "color": "#262626", "strokeWidth": 1.2}, "encoding": {"x2": {"field": "x2"}, "y2": {"field": "y2"}}},
      {"data": {"name": "dt"}, "transform": [{"filter": "datum.c === 5"}], "mark": {"type": "text", "color": "#262626", "baseline": "middle"}, "encoding": {"text": {"field": "t"}, "size": {"field": "k", "type": "nominal", "scale": {"domain": ["n","c","s"], "range": [21, 12, 8.5]}, "legend": null}}}
     ]},
    {"hconcat": [
      {"width": 363, "height": 361,
       "title": {"text": "DU145 AR-FL", "offset": -29},
       "data": {"name": "bars"}, "transform": [{"filter": "datum.p === 5"}],
       "encoding": {
         "x": {"field": "c", "type": "nominal", "sort": ["0","16.1","31.3","62.5","125","250"], "scale": {"range": [47, 353], "paddingInner": 0.3, "paddingOuter": 0.15}, "axis": {"title": "AR concentration (ng)", "offset": -46, "titlePadding": 1}},
         "xOffset": {"field": "s", "type": "nominal"},
         "y": {"field": "v", "type": "quantitative", "scale": {"domain": [0, 30], "range": [315, 82], "nice": false}, "axis": {"title": "Relative Luciferase activity", "offset": -47, "values": [0, 5, 10, 15, 20, 25, 30]}}},
       "layer": [
         {"mark": {"type": "bar"}, "encoding": {"fill": {"field": "s", "type": "nominal", "scale": {"domain": ["A","B","C","D"], "range": ["#ffffff","#a5a5a5","#d4d4d4","#6b6b6b"]}, "legend": null}}},
         {"transform": [{"filter": "datum.s === 'A'"}], "mark": {"type": "bar", "fill": {"gradient": "linear", "x1": 0, "y1": 0, "x2": 0.13, "y2": 1.13, "stops": [{"offset": 0, "color": "#555555"}, {"offset": 0.02, "color": "#ffffff"}, {"offset": 0.04, "color": "#555555"}, {"offset": 0.06, "color": "#ffffff"}, {"offset": 0.08, "color": "#555555"}, {"offset": 0.1, "color": "#ffffff"}, {"offset": 0.12, "color": "#555555"}, {"offset": 0.14, "color": "#ffffff"}, {"offset": 0.16, "color": "#555555"}, {"offset": 0.18, "color": "#ffffff"}, {"offset": 0.2, "color": "#555555"}, {"offset": 0.22, "color": "#ffffff"}, {"offset": 0.24, "color": "#555555"}, {"offset": 0.26, "color": "#ffffff"}, {"offset": 0.28, "color": "#555555"}, {"offset": 0.3, "color": "#ffffff"}, {"offset": 0.32, "color": "#555555"}, {"offset": 0.34, "color": "#ffffff"}, {"offset": 0.36, "color": "#555555"}, {"offset": 0.38, "color": "#ffffff"}, {"offset": 0.4, "color": "#555555"}, {"offset": 0.42, "color": "#ffffff"}, {"offset": 0.44, "color": "#555555"}, {"offset": 0.46, "color": "#ffffff"}, {"offset": 0.48, "color": "#555555"}, {"offset": 0.5, "color": "#ffffff"}, {"offset": 0.52, "color": "#555555"}, {"offset": 0.54, "color": "#ffffff"}, {"offset": 0.56, "color": "#555555"}, {"offset": 0.58, "color": "#ffffff"}, {"offset": 0.6, "color": "#555555"}, {"offset": 0.62, "color": "#ffffff"}, {"offset": 0.64, "color": "#555555"}, {"offset": 0.66, "color": "#ffffff"}, {"offset": 0.68, "color": "#555555"}, {"offset": 0.7, "color": "#ffffff"}, {"offset": 0.72, "color": "#555555"}, {"offset": 0.74, "color": "#ffffff"}, {"offset": 0.76, "color": "#555555"}, {"offset": 0.78, "color": "#ffffff"}, {"offset": 0.8, "color": "#555555"}, {"offset": 0.82, "color": "#ffffff"}, {"offset": 0.84, "color": "#555555"}, {"offset": 0.86, "color": "#ffffff"}, {"offset": 0.88, "color": "#555555"}, {"offset": 0.9, "color": "#ffffff"}, {"offset": 0.92, "color": "#555555"}, {"offset": 0.94, "color": "#ffffff"}, {"offset": 0.96, "color": "#555555"}, {"offset": 0.98, "color": "#ffffff"}, {"offset": 1, "color": "#555555"}]}}},
         {"transform": [{"filter": "datum.s === 'C'"}], "mark": {"type": "rule", "color": "#333333", "strokeWidth": 8, "strokeDash": [1.5, 1.5]}, "encoding": {"y2": {"datum": 0}}},
         {"mark": {"type": "rule", "color": "#262626", "strokeWidth": 1}, "encoding": {"y2": {"field": "hi"}}},
         {"mark": {"type": "tick", "color": "#262626", "thickness": 1, "size": 5, "opacity": 1}, "encoding": {"y": {"field": "hi", "type": "quantitative", "title": "Relative Luciferase activity"}}}
       ]},
      {"width": 362, "height": 360,
       "title": {"text": "DU145 ARV7", "offset": -45},
       "data": {"name": "bars"}, "transform": [{"filter": "datum.p === 6"}],
       "encoding": {
         "x": {"field": "c", "type": "nominal", "sort": ["0","16.1","31.3","62.5","125","250"], "scale": {"range": [50, 352], "paddingInner": 0.3, "paddingOuter": 0.15}, "axis": {"title": "AR concentration (ng)", "offset": -47, "titlePadding": 2}},
         "xOffset": {"field": "s", "type": "nominal"},
         "y": {"field": "v", "type": "quantitative", "scale": {"domain": [0, 30], "range": [313, 71], "nice": false}, "axis": {"title": "Relative Luciferase activity", "offset": -50, "values": [0, 5, 10, 15, 20, 25, 30]}}},
       "layer": [
         {"mark": {"type": "bar"}, "encoding": {"fill": {"field": "s", "type": "nominal", "scale": {"domain": ["A","B","C","D"], "range": ["#ffffff","#a5a5a5","#d4d4d4","#6b6b6b"]}, "legend": null}}},
         {"transform": [{"filter": "datum.s === 'A'"}], "mark": {"type": "bar", "fill": {"gradient": "linear", "x1": 0, "y1": 0, "x2": 0.13, "y2": 1.13, "stops": [{"offset": 0, "color": "#555555"}, {"offset": 0.02, "color": "#ffffff"}, {"offset": 0.04, "color": "#555555"}, {"offset": 0.06, "color": "#ffffff"}, {"offset": 0.08, "color": "#555555"}, {"offset": 0.1, "color": "#ffffff"}, {"offset": 0.12, "color": "#555555"}, {"offset": 0.14, "color": "#ffffff"}, {"offset": 0.16, "color": "#555555"}, {"offset": 0.18, "color": "#ffffff"}, {"offset": 0.2, "color": "#555555"}, {"offset": 0.22, "color": "#ffffff"}, {"offset": 0.24, "color": "#555555"}, {"offset": 0.26, "color": "#ffffff"}, {"offset": 0.28, "color": "#555555"}, {"offset": 0.3, "color": "#ffffff"}, {"offset": 0.32, "color": "#555555"}, {"offset": 0.34, "color": "#ffffff"}, {"offset": 0.36, "color": "#555555"}, {"offset": 0.38, "color": "#ffffff"}, {"offset": 0.4, "color": "#555555"}, {"offset": 0.42, "color": "#ffffff"}, {"offset": 0.44, "color": "#555555"}, {"offset": 0.46, "color": "#ffffff"}, {"offset": 0.48, "color": "#555555"}, {"offset": 0.5, "color": "#ffffff"}, {"offset": 0.52, "color": "#555555"}, {"offset": 0.54, "color": "#ffffff"}, {"offset": 0.56, "color": "#555555"}, {"offset": 0.58, "color": "#ffffff"}, {"offset": 0.6, "color": "#555555"}, {"offset": 0.62, "color": "#ffffff"}, {"offset": 0.64, "color": "#555555"}, {"offset": 0.66, "color": "#ffffff"}, {"offset": 0.68, "color": "#555555"}, {"offset": 0.7, "color": "#ffffff"}, {"offset": 0.72, "color": "#555555"}, {"offset": 0.74, "color": "#ffffff"}, {"offset": 0.76, "color": "#555555"}, {"offset": 0.78, "color": "#ffffff"}, {"offset": 0.8, "color": "#555555"}, {"offset": 0.82, "color": "#ffffff"}, {"offset": 0.84, "color": "#555555"}, {"offset": 0.86, "color": "#ffffff"}, {"offset": 0.88, "color": "#555555"}, {"offset": 0.9, "color": "#ffffff"}, {"offset": 0.92, "color": "#555555"}, {"offset": 0.94, "color": "#ffffff"}, {"offset": 0.96, "color": "#555555"}, {"offset": 0.98, "color": "#ffffff"}, {"offset": 1, "color": "#555555"}]}}},
         {"transform": [{"filter": "datum.s === 'C'"}], "mark": {"type": "rule", "color": "#333333", "strokeWidth": 8, "strokeDash": [1.5, 1.5]}, "encoding": {"y2": {"datum": 0}}},
         {"mark": {"type": "rule", "color": "#262626", "strokeWidth": 1}, "encoding": {"y2": {"field": "hi"}}},
         {"mark": {"type": "tick", "color": "#262626", "thickness": 1, "size": 5, "opacity": 1}, "encoding": {"y": {"field": "hi", "type": "quantitative", "title": "Relative Luciferase activity"}}}
       ]}
    ], "spacing": 22}
  ], "spacing": 20.5, "center": true},

  {"width": 748, "height": 188,
   "view": {"stroke": "#a0a0a0", "strokeWidth": 1},
   "data": {"name": "leg"},
   "encoding": {"y": {"field": "s", "type": "ordinal", "scale": {"type": "point", "padding": 0.59}, "axis": null}},
   "layer": [
     {"mark": {"type": "point", "shape": "square", "filled": true, "size": 600, "stroke": "#1a1a1a", "strokeWidth": 1.5, "opacity": 1},
      "encoding": {"x": {"datum": 203.5, "type": "quantitative", "scale": {"domain": [0, 748], "nice": false}, "axis": null},
                   "fill": {"field": "s", "type": "nominal", "scale": {"domain": ["A","B","C","D"], "range": ["#ffffff","#a5a5a5","#d4d4d4","#6b6b6b"]}, "legend": null}}},
     {"transform": [{"filter": "datum.s === 'A'"}],
      "mark": {"type": "point", "shape": "square", "filled": true, "size": 600, "stroke": "#1a1a1a", "strokeWidth": 1.5, "opacity": 1,
        "fill": {"gradient": "linear", "x1": 0, "y1": 0, "x2": 1, "y2": 1, "stops": [
          {"offset": 0, "color": "#333333"}, {"offset": 0.0625, "color": "#ffffff"}, {"offset": 0.125, "color": "#333333"}, {"offset": 0.1875, "color": "#ffffff"}, {"offset": 0.25, "color": "#333333"}, {"offset": 0.3125, "color": "#ffffff"}, {"offset": 0.375, "color": "#333333"}, {"offset": 0.4375, "color": "#ffffff"}, {"offset": 0.5, "color": "#333333"}, {"offset": 0.5625, "color": "#ffffff"}, {"offset": 0.625, "color": "#333333"}, {"offset": 0.6875, "color": "#ffffff"}, {"offset": 0.75, "color": "#333333"}, {"offset": 0.8125, "color": "#ffffff"}, {"offset": 0.875, "color": "#333333"}, {"offset": 0.9375, "color": "#ffffff"}, {"offset": 1, "color": "#333333"}]}},
      "encoding": {"x": {"datum": 203.5, "type": "quantitative"}}},
     {"transform": [{"filter": "datum.s === 'C'"}],
      "mark": {"type": "point", "shape": "square", "filled": true, "size": 600, "stroke": "#1a1a1a", "strokeWidth": 1.5, "opacity": 1,
        "fill": {"gradient": "linear", "x1": 0, "y1": 0, "x2": 0, "y2": 1, "stops": [
          {"offset": 0, "color": "#333333"}, {"offset": 0.0625, "color": "#d4d4d4"}, {"offset": 0.125, "color": "#333333"}, {"offset": 0.1875, "color": "#d4d4d4"}, {"offset": 0.25, "color": "#333333"}, {"offset": 0.3125, "color": "#d4d4d4"}, {"offset": 0.375, "color": "#333333"}, {"offset": 0.4375, "color": "#d4d4d4"}, {"offset": 0.5, "color": "#333333"}, {"offset": 0.5625, "color": "#d4d4d4"}, {"offset": 0.625, "color": "#333333"}, {"offset": 0.6875, "color": "#d4d4d4"}, {"offset": 0.75, "color": "#333333"}, {"offset": 0.8125, "color": "#d4d4d4"}, {"offset": 0.875, "color": "#333333"}, {"offset": 0.9375, "color": "#d4d4d4"}, {"offset": 1, "color": "#333333"}]}},
      "encoding": {"x": {"datum": 203.5, "type": "quantitative"}}},
     {"mark": {"type": "text", "align": "left", "baseline": "middle", "fontSize": 20, "color": "#262626"},
      "encoding": {"x": {"datum": 243, "type": "quantitative"}, "text": {"field": "label"}}}
   ]}
]
}
